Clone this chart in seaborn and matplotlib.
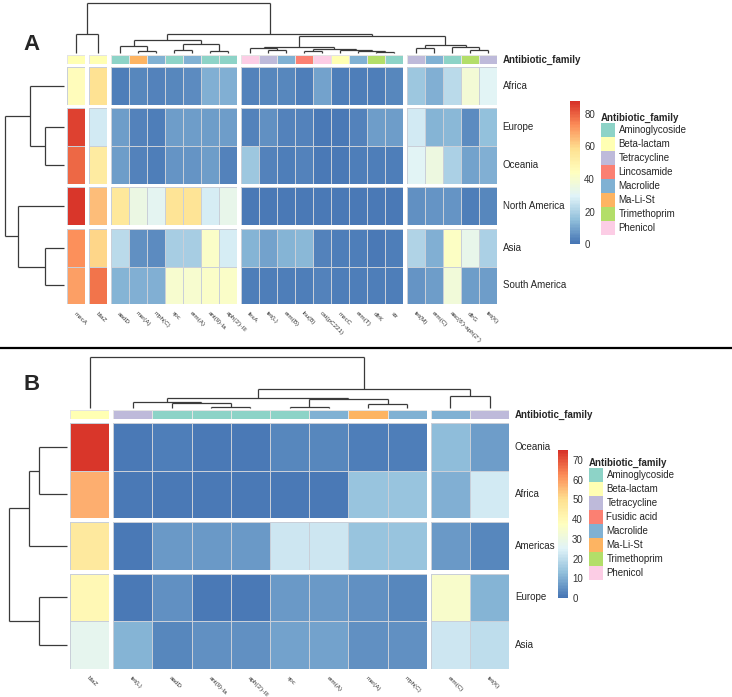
import numpy as np
import pandas as pd
import matplotlib
matplotlib.use("Agg")
import matplotlib.pyplot as plt
import seaborn as sns
from matplotlib.colors import LinearSegmentedColormap, ListedColormap
from matplotlib.patches import Patch

sns.set_style("white")
plt.rcParams['font.family'] = ['Liberation Sans', 'DejaVu Sans']

# ---------------- data: panel A ----------------
a_rows = ["Africa", "Europe", "Oceania", "North America", "Asia", "South America"]
a_cols = ["mecA", "blaZ", "aadD", "msr(A)", "mph(C)", "spc", "erm(A)", "ant(9)-Ia",
          "aph(3')-III", "fexA", "tet(L)", "erm(B)", "lnu(B)", "cat(pC221)", "mecC",
          "erm(T)", "dfrK", "str", "tet(M)", "erm(C)", "aac(6')-aph(2'')", "dfrG", "tet(K)"]
a_africa = [45, 58, 2, 4, 3, 4, 5, 12, 12, 3, 4, 4, 2, 9, 2, 2, 2, 4, 17, 12, 22, 38, 30]
a_europe = [85, 27, 8, 3, 2, 8, 8, 8, 8, 3, 6, 3, 3, 1, 1, 3, 8, 8, 27, 13, 14, 5, 15]
a_oceania = [79, 53, 8, 3, 2, 7, 7, 8, 3, 17, 3, 2, 3, 1, 1, 2, 2, 2, 30, 36, 20, 9, 12]
a_namerica = [87, 65, 55, 35, 31, 57, 57, 28, 33, 1, 1, 1, 1, 1, 1, 1, 1, 1, 6, 7, 7, 2, 4]
a_asia = [73, 60, 22, 6, 5, 19, 19, 42, 28, 13, 9, 13, 14, 3, 2, 2, 1, 2, 21, 12, 43, 33, 20]
a_samerica = [70, 77, 13, 12, 12, 40, 40, 42, 42, 2, 2, 2, 2, 3, 2, 2, 2, 2, 7, 8, 37, 8, 8]
a_family = ["Beta-lactam", "Beta-lactam", "Aminoglycoside", "Ma-Li-St", "Macrolide",
            "Aminoglycoside", "Macrolide", "Aminoglycoside", "Aminoglycoside", "Phenicol",
            "Tetracycline", "Macrolide", "Lincosamide", "Phenicol", "Beta-lactam", "Macrolide",
            "Trimethoprim", "Aminoglycoside", "Tetracycline", "Macrolide", "Aminoglycoside",
            "Trimethoprim", "Tetracycline"]
a_legend = ["Aminoglycoside", "Beta-lactam", "Tetracycline", "Lincosamide", "Macrolide",
            "Ma-Li-St", "Trimethoprim", "Phenicol"]
# dendrograms: (left, right, merge height)
a_col_tree = ((0, 1, 19),
              (((2, (3, 4, 2), 7), ((5, 6, 3), (7, 8, 2), 9), 13),
               (((9, (10, 11, 3), 5), ((12, 13, 2), (14, (15, (16, 17, 1), 2), 3), 4), 6),
                ((18, 19, 5), (20, (21, 22, 3), 6), 8), 17.5), 19), 50)
a_row_tree = ((0, (1, 2, 19), 34), (3, (4, 5, 19), 46), 59)

# ---------------- data: panel B ----------------
b_rows = ["Oceania", "Africa", "Americas", "Europe", "Asia"]
b_cols = ["blaZ", "tet(L)", "aadD", "ant(9)-Ia", "aph(3')-III", "spc", "erm(A)",
          "msr(A)", "mph(C)", "erm(C)", "tet(K)"]
b_oceania = [74, 1, 2, 1, 1, 3, 3, 2, 2, 12, 7]
b_africa = [57, 1, 1, 1, 1, 1, 1, 14, 14, 10, 23]
b_americas = [46, 1, 6, 6, 6, 22, 22, 14, 14, 6, 3]
b_europe = [40, 1, 5, 1, 1, 6, 6, 5, 3, 35, 11]
b_asia = [27, 11, 3, 5, 5, 8, 8, 5, 5, 22, 20]
b_family = ["Beta-lactam", "Tetracycline", "Aminoglycoside", "Aminoglycoside",
            "Aminoglycoside", "Aminoglycoside", "Macrolide", "Ma-Li-St", "Macrolide",
            "Macrolide", "Tetracycline"]
b_legend = ["Aminoglycoside", "Beta-lactam", "Tetracycline", "Fusidic acid", "Macrolide",
            "Ma-Li-St", "Trimethoprim", "Phenicol"]
b_col_tree = (0, (((1, (2, (3, 4, 1), 5), 6), ((5, 6, 1), (7, 8, 4), 9), 10),
                  (9, 10, 12), 19), 51)
b_row_tree = (((0, 1, 28), 2, 38), (3, 4, 28), 58)

family_colors = ["#8DD3C7", "#FFFFB3", "#BEBADA", "#FB8072", "#80B1D3",
                 "#FDB462", "#B3DE69", "#FCCDE5"]

df_a = pd.DataFrame([a_africa, a_europe, a_oceania, a_namerica, a_asia, a_samerica],
                    index=a_rows, columns=a_cols)
df_b = pd.DataFrame([b_oceania, b_africa, b_americas, b_europe, b_asia],
                    index=b_rows, columns=b_cols)

cmap = LinearSegmentedColormap.from_list(
    "pheat", ["#4575B4", "#91BFDB", "#E0F3F8", "#FFFFBF", "#FEE090", "#FC8D59", "#D73027"], N=100)

W, H = 732, 697
fig = plt.figure(figsize=(W / 100, H / 100), dpi=100)

# overlay for dendrograms (pixel coords)
ov = fig.add_axes([0, 0, 1, 1])
ov.set_xlim(0, W)
ov.set_ylim(H, 0)
ov.axis("off")
ov.patch.set_alpha(0)


def px_ax(x0, y0, x1, y1):
    return fig.add_axes([x0 / W, 1 - y1 / H, (x1 - x0) / W, (y1 - y0) / H])


def groups(n, breaks, start, size, gap):
    idx = [0] + list(breaks) + [n]
    out, pos = [], start
    for s, e in zip(idx[:-1], idx[1:]):
        out.append((s, e, pos, pos + (e - s) * size))
        pos += (e - s) * size + gap
    return out


def centers(grps, size):
    c = []
    for s, e, p0, p1 in grps:
        c += [p0 + (k + 0.5) * size for k in range(e - s)]
    return c


def draw_tree(node, leaf_pos, base, orient):
    if isinstance(node, int):
        return leaf_pos[node], 0
    l, r, h = node
    pl, hl = draw_tree(l, leaf_pos, base, orient)
    pr, hr = draw_tree(r, leaf_pos, base, orient)
    kw = dict(color="#3a3a3a", lw=0.9, solid_capstyle="butt")
    if orient == "top":
        ov.plot([pl, pl], [base - hl, base - h], **kw)
        ov.plot([pr, pr], [base - hr, base - h], **kw)
        ov.plot([pl, pr], [base - h, base - h], **kw)
    else:
        ov.plot([base - hl, base - h], [pl, pl], **kw)
        ov.plot([base - hr, base - h], [pr, pr], **kw)
        ov.plot([base - h, base - h], [pl, pr], **kw)
    return (pl + pr) / 2, h


def panel(df, family, legend_fams, col_breaks, row_breaks, x0, y0, cw, rh, gap,
          ann_y, vmax, ticks, cbar_box, leg_xy, col_tree, row_tree, lab_size):
    nr, nc = df.shape
    cg = groups(nc, col_breaks, x0, cw, gap)
    rg = groups(nr, row_breaks, y0, rh, gap)
    fam_codes = np.array([[legend_fams.index(f) for f in family]])
    fam_cmap = ListedColormap(family_colors)
    cax = px_ax(*cbar_box)
    first = True
    for ci, (cs, ce, cx0, cx1) in enumerate(cg):
        # annotation bar
        ax = px_ax(cx0, ann_y[0], cx1, ann_y[1])
        sns.heatmap(fam_codes[:, cs:ce], ax=ax, cmap=fam_cmap, vmin=-0.5,
                    vmax=len(family_colors) - 0.5, cbar=False, linewidths=0.4,
                    linecolor="#e4e4e4", xticklabels=False, yticklabels=False)
        if ci == len(cg) - 1:
            ax.yaxis.tick_right()
            ax.set_yticks([0.5])
            ax.set_yticklabels(["Antibiotic_family"], rotation=0, fontsize=7,
                               fontweight="bold", va="center")
            ax.tick_params(axis="y", length=0, pad=4)
        for ri, (rs, re, ry0, ry1) in enumerate(rg):
            ax = px_ax(cx0, ry0, cx1, ry1)
            sns.heatmap(df.iloc[rs:re, cs:ce], ax=ax, cmap=cmap, vmin=0, vmax=vmax,
                        cbar=first, cbar_ax=cax if first else None,
                        linewidths=0.4, linecolor="#c9cfd8",
                        xticklabels=False, yticklabels=False)
            first = False
            ax.set_xlabel("")
            ax.set_ylabel("")
            if ri == len(rg) - 1:
                ax.set_xticks(np.arange(ce - cs) + 0.5)
                ax.set_xticklabels(df.columns[cs:ce], rotation=-45, ha="left", va="top",
                                   rotation_mode="anchor", fontsize=lab_size, color="#333333")
                ax.tick_params(axis="x", length=0, pad=5)
            if ci == len(cg) - 1:
                ax.yaxis.tick_right()
                ax.set_yticks(np.arange(re - rs) + 0.5)
                ax.set_yticklabels(df.index[rs:re], rotation=0, fontsize=7, va="center")
                ax.tick_params(axis="y", length=0, pad=4)
    cax.set_yticks(ticks)
    cax.tick_params(length=0, labelsize=7, pad=3, colors="#333333")
    for s in cax.spines.values():
        s.set_visible(False)
    # legend
    handles = [Patch(facecolor=c, edgecolor="none") for c in family_colors]
    fig.legend(handles, legend_fams, title="Antibiotic_family", loc="upper left",
               bbox_to_anchor=(leg_xy[0] / W, 1 - leg_xy[1] / H), frameon=False,
               fontsize=7, title_fontproperties={"weight": "bold", "size": 7},
               handlelength=1.45, handleheight=1.84, labelspacing=0.0,
               handletextpad=0.35, borderpad=0, borderaxespad=0, alignment="left")
    # dendrograms
    draw_tree(col_tree, centers(cg, cw), ann_y[0] - 2, "top")
    draw_tree(row_tree, centers(rg, rh), x0 - 3, "left")


panel(df_a, a_family, a_legend, [1, 2, 9, 18], [1, 3, 4], 67, 67, 18, 37.5, 4,
      (55, 64), 88, [0, 20, 40, 60, 80], (570, 101, 580, 244), (601, 113),
      a_col_tree, a_row_tree, 4.5)
panel(df_b, b_family, b_legend, [1, 9], [2, 3], 70, 423, 39.2, 47.5, 4,
      (410, 419.5), 75, [0, 10, 20, 30, 40, 50, 60, 70], (558, 450, 568, 598), (589, 458),
      b_col_tree, b_row_tree, 4.5)

fig.text(32 / W, 1 - 44 / H, "A", fontsize=16, fontweight="bold", ha="center", va="center")
fig.text(32 / W, 1 - 385 / H, "B", fontsize=16, fontweight="bold", ha="center", va="center")
fig.add_artist(plt.Line2D([0, 1], [1 - 348 / H, 1 - 348 / H], color="black", lw=1.6,
                          transform=fig.transFigure))

fig.savefig("out.png", dpi=100)
